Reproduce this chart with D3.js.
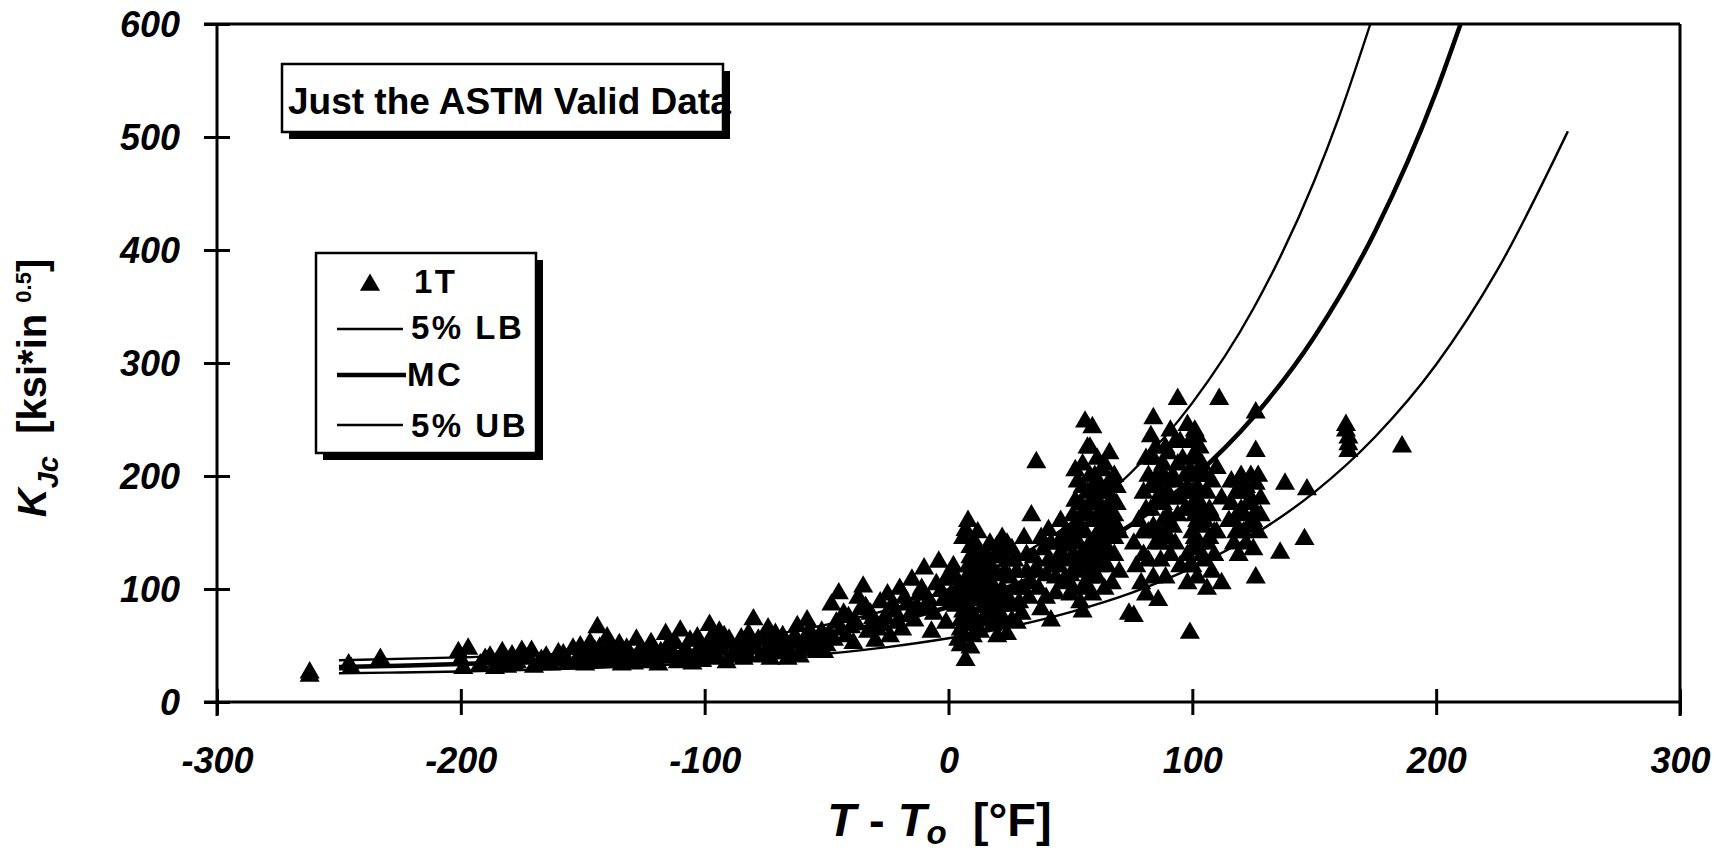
<!DOCTYPE html>
<html>
<head>
<meta charset="utf-8">
<title>KJc vs T - To</title>
<script src="https://cdn.jsdelivr.net/npm/d3@7"></script>
<style>
  body { margin: 0; background: #fff; }
  svg text { font-family: "Liberation Sans", Arial, Helvetica, sans-serif; font-weight: bold; fill: #000; white-space: pre; }
</style>
</head>
<body>
<svg id="chart" width="1726" height="855"></svg>
<script>
// axis ticks
const xTicks = [-300, -200, -100, 0, 100, 200, 300];
const yTicks = [0, 100, 200, 300, 400, 500, 600];

// 5% LB curve (lowest one)
const lbT = [-250, -225, -200, -175, -150, -125, -100, -75, -50, -25, 0, 25, 50, 75, 100, 125, 150, 175, 200, 225, 254];
const lbK = [25.4, 26.1, 27.0, 28.3, 29.8, 31.9, 34.6, 38.1, 42.7, 48.6, 56.4, 66.4, 79.6, 96.6, 118.9, 147.8, 185.5, 234.7, 298.6, 381.9, 505];

// master curve
const mcT = [-250, -225, -200, -175, -150, -125, -100, -75, -50, -25, 0, 25, 50, 75, 100, 125, 150, 175, 200, 210];
const mcK = [31.0, 32.1, 33.6, 35.6, 38.2, 41.7, 46.2, 52.2, 60.1, 70.4, 84.1, 102.1, 125.7, 156.9, 197.9, 252, 323, 416.7, 540, 600];

// 5% UB curve
const ubT = [-250, -200, -150, -100, -50, -25, 0, 25, 50, 75, 100, 125, 150, 160, 173];
const ubK = [37, 39.5, 43.5, 51.5, 68.5, 81.5, 100, 124.6, 158, 203.3, 264.7, 348, 461, 517, 600];

// 1T specimens [T - To (F), KJc]
const oneT = [
  [-262,26],[-262,23],[-246,33],[-245,30],[-233,38],
  [-201,44],[-200,37],[-199,30],[-197,47],
  [-192,33],[-190,38],[-188,40],[-186,30],[-185,36],[-183,44],[-182,38],[-181,31],[-179,41],[-178,33],[-177,35],[-175,45],
  [-174,41],[-172,38],[-171,45],[-170,31],[-168,34],[-167,37],[-165,40],[-163,33],
  [-161,37],[-160,43],[-158,42],[-157,38],[-156,35],[-154,47],[-153,34],[-152,39],[-151,49],[-150,44],[-149,33],[-148,40],
  [-147,52],[-146,36],[-145,45],[-144,66],[-143,48],[-142,37],[-141,41],[-139,50],
  [-140,57],[-138,36],[-137,45],[-136,42],[-135,51],[-134,33],[-133,39],[-132,47],[-131,43],[-130,38],[-129,34],[-128,55],
  [-127,43],[-126,47],[-125,35],[-124,40],[-123,47],[-122,52],[-121,42],[-120,36],[-119,33],
  [-118,44],[-117,39],[-116,60],[-115,50],[-114,46],[-113,41],[-112,52],[-111,35],[-110,63],[-109,38],[-108,46],[-107,43],
  [-106,54],[-105,34],[-104,39],[-103,57],[-102,48],[-101,36],[-100,43],
  [-99,45],[-98,68],[-97,58],[-97,38],[-96,50],[-95,40],[-94,62],[-94,52],[-93,46],[-92,58],[-91,35],[-90,55],[-89,40],
  [-88,44],[-87,47],[-86,51],[-85,56],[-84,38],[-83,43],[-82,60],[-81,50],[-80,73],
  [-79,47],[-78,55],[-77,40],[-76,56],[-75,45],[-74,65],[-73,38],[-72,50],[-71,60],[-70,43],[-69,48],[-68,58],[-67,52],
  [-66,38],[-65,44],[-64,53],[-63,58],[-62,67],[-61,40],[-60,47],[-59,52],[-58,72],[-57,63],[-56,56],[-55,49],
  [-54,44],[-53,55],[-52,62],[-51,44],[-50,50],
  [-49,60],[-48,86],[-47,55],[-46,70],[-45,96],[-44,64],[-43,78],[-42,58],[-41,75],[-40,66],[-39,52],[-38,70],[-37,92],
  [-36,82],[-35,102],[-34,84],[-33,62],[-32,78],[-31,74],[-30,54],[-29,64],
  [-28,88],[-27,68],[-26,75],[-25,95],[-24,58],[-23,86],[-22,80],[-21,70],[-20,100],[-19,64],[-18,92],[-17,86],[-16,76],
  [-15,108],[-14,72],[-13,84],[-12,95],[-11,100],[-10,118],[-9,82],[-8,90],
  [-7,62],[-6,78],[-5,104],[-4,124],[-3,98],[-2,90],[-1,70],[-1,108],[0,112],[1,95],[2,120],[3,85],
  [3,110],[4,55],[4,92],[4,100],[5,50],[5,64],[5,72],[6,58],[6,80],[6,88],[7,68],[7,96],[7,104],[8,76],[8,85],[8,112],
  [8,120],[9,93],[9,100],[9,128],[9,137],[6,145],[7,152],[8,160],[7,37],[9,48],
  [10,58],[10,68],[10,78],[10,108],[10,116],[11,90],[11,100],[11,110],[11,125],[11,140],[12,120],[12,132],[12,150],
  [13,62],[13,96],[13,108],[14,72],[14,84],[14,118],[15,95],[15,106],[15,130],[16,78],[16,116],[16,128],[17,92],[17,104],
  [17,140],[18,80],[18,68],[18,118],[19,100],[19,90],[19,128],[20,112],[20,58],[20,70],[20,138],
  [21,85],[21,130],[22,100],[22,145],[22,75],[23,95],[23,115],[24,60],[24,125],[24,140],[25,90],[25,110],[26,72],[26,85],
  [26,135],[27,100],[27,125],[28,70],[28,115],
  [29,88],[30,78],[30,100],[31,145],[32,115],[32,130],[33,92],[34,105],[34,165],[35,128],[36,118],[36,212],[37,100],
  [38,82],[38,145],[39,135],[40,92],[40,112],[41,125],[41,152],[42,72],[42,140],
  [43,120],[44,96],[44,110],[45,120],[45,140],[46,132],[46,160],[47,105],[47,145],[48,110],[48,125],[48,150],[49,138],
  [50,95],[50,112],[50,150],[51,100],[51,130],[51,165],[52,115],[52,145],[52,178],[52,205],[53,120],[53,140],[53,160],
  [53,195],[54,88],[54,128],[54,155],[54,175],[55,80],[55,100],[55,132],[55,190],[55,210],
  [56,105],[56,125],[56,150],[56,170],[56,248],[57,118],[57,135],[57,165],[57,185],[57,225],[58,110],[58,140],[58,175],
  [58,200],[58,225],[59,95],[59,130],[59,160],[59,190],[59,243],[60,125],[60,145],[60,178],[60,200],
  [61,110],[61,130],[61,165],[61,215],[62,120],[62,150],[62,175],[62,190],[63,135],[63,155],[63,185],[63,205],[64,100],
  [64,140],[64,168],[64,210],[65,120],[65,155],[65,170],[65,185],[66,130],[66,145],[66,195],[66,220],[67,105],[67,160],
  [67,180],[68,130],[68,145],[68,165],[68,200],[69,155],[69,175],[69,190],[70,115],[70,150],
  [74,78],[76,76],[76,140],[77,120],[78,160],[79,105],[80,130],[80,150],[80,185],[81,95],[81,170],[81,215],[82,125],
  [82,150],[82,200],[83,170],[83,190],[83,235],[84,110],[84,155],[84,215],[84,251],[85,140],[85,175],[85,195],[85,225],
  [86,90],[86,150],[86,175],[86,200],[87,125],[87,140],[87,185],[87,205],[88,160],[88,175],[88,210],[89,110],[89,150],
  [89,195],[89,225],[90,145],[90,165],[90,185],[90,220],[91,130],[91,180],[91,240],[92,155],[92,200],[93,140],[93,195],
  [93,230],[94,165],[94,210],[94,268],[95,120],[95,180],[95,230],[96,185],[96,215],[97,170],[97,200],
  [98,105],[98,130],[98,190],[98,245],[99,61],[99,120],[99,170],[99,205],[99,230],[100,120],[100,135],[100,150],[100,185],
  [100,215],[101,145],[101,165],[101,200],[101,220],[101,240],[102,110],[102,160],[102,180],[102,190],[102,235],
  [103,140],[103,175],[103,200],[103,225],[104,130],[104,155],[104,170],[104,210],[105,125],[105,160],[105,200],
  [106,100],[106,140],[106,185],[107,145],[107,170],[108,115],[108,165],[108,195],[109,130],[109,150],[110,150],[110,207],
  [111,268],[112,105],[112,180],
  [115,160],[116,175],[116,195],[117,140],[117,160],[118,150],[118,185],[119,130],[119,195],[120,170],[120,185],[120,200],
  [121,150],[121,165],[122,140],[122,190],[123,155],[123,175],[124,180],[124,200],[125,135],[125,160],
  [126,256],[126,222],[126,193],[126,168],[126,110],[127,150],[127,200],[128,165],[128,180],[136,132],[138,193],[146,144],
  [147,188],
  [163,245],[163,240],[164,234],[164,228],[164,222],[186,226]
];

const legendItems = ["1T", "5% LB", "MC", "5% UB"];

const svg = d3.select("#chart");
const x = d3.scaleLinear().domain([-300, 300]).range([217, 1680]);
const y = d3.scaleLinear().domain([0, 600]).range([702, 24]);

// frame lines
svg.append("line").attr("x1", x(-300) - 13).attr("x2", x(300)).attr("y1", y(600)).attr("y2", y(600))
  .attr("stroke", "#000").attr("stroke-width", 3);
svg.append("line").attr("x1", x(300)).attr("x2", x(300)).attr("y1", y(600)).attr("y2", y(0) + 14)
  .attr("stroke", "#000").attr("stroke-width", 3);
svg.append("line").attr("x1", x(-300)).attr("x2", x(-300)).attr("y1", y(600)).attr("y2", y(0) + 14)
  .attr("stroke", "#000").attr("stroke-width", 3);
svg.append("line").attr("x1", x(-300) - 13).attr("x2", x(300)).attr("y1", y(0)).attr("y2", y(0))
  .attr("stroke", "#000").attr("stroke-width", 3);

// axes (plain hyphen minus like the original)
const fmt = d => String(d);
const gx = svg.append("g").attr("transform", `translate(0,${y(0)})`)
  .call(d3.axisBottom(x).tickValues(xTicks).tickSize(13).tickFormat(fmt));
gx.select(".domain").remove();
gx.selectAll(".tick line").attr("y1", -13).attr("y2", 13).attr("stroke-width", 3);
gx.selectAll(".tick text").attr("y", 71).attr("dy", null)
  .style("font-size", "36px").style("font-style", "italic");

const gy = svg.append("g").attr("transform", `translate(${x(-300)},0)`)
  .call(d3.axisLeft(y).tickValues(yTicks).tickSize(13).tickFormat(fmt));
gy.select(".domain").remove();
gy.selectAll(".tick line").attr("x1", 13).attr("x2", -13).attr("stroke-width", 3);
gy.selectAll(".tick text").attr("x", -37).attr("dy", "0.36em")
  .style("font-size", "36px").style("font-style", "italic");
gx.attr("font-family", null).attr("font-size", null);
gy.attr("font-family", null).attr("font-size", null);

// curves
const line = d3.line().x(d => x(d[0])).y(d => y(d[1])).curve(d3.curveMonotoneX);
const curves = [
  { t: lbT, k: lbK, w: 2.4 },
  { t: mcT, k: mcK, w: 4.5 },
  { t: ubT, k: ubK, w: 2.4 }
];
svg.selectAll("path.curve").data(curves).join("path")
  .attr("class", "curve")
  .attr("d", c => line(c.t.map((t, i) => [t, c.k[i]])))
  .attr("fill", "none").attr("stroke", "#000").attr("stroke-width", c => c.w);

// data points
const tri = d3.symbol(d3.symbolTriangle, 175);
svg.selectAll("path.pt").data(oneT).join("path")
  .attr("class", "pt")
  .attr("transform", d => `translate(${x(d[0])},${y(d[1])})`)
  .attr("d", tri).attr("fill", "#000");

// title box (last letter runs under the right border, as in the original)
svg.append("rect").attr("x", 289).attr("y", 71).attr("width", 441).attr("height", 68).attr("fill", "#000");
svg.append("rect").attr("x", 282).attr("y", 64).attr("width", 441).attr("height", 68)
  .attr("fill", "#fff").attr("stroke", "#000").attr("stroke-width", 2.5);
svg.append("text").attr("x", 288).attr("y", 114)
  .style("font-size", "37px").text("Just the ASTM Valid Data");

// legend
svg.append("rect").attr("x", 323).attr("y", 260).attr("width", 220).attr("height", 200).attr("fill", "#000");
svg.append("rect").attr("x", 316).attr("y", 253).attr("width", 220).attr("height", 200)
  .attr("fill", "#fff").attr("stroke", "#000").attr("stroke-width", 2.5);
const lg = svg.append("g");
lg.append("path").attr("transform", "translate(370,285)").attr("d", tri).attr("fill", "#000");
lg.append("line").attr("x1", 337).attr("x2", 403).attr("y1", 329).attr("y2", 329).attr("stroke", "#000").attr("stroke-width", 2.4);
lg.append("line").attr("x1", 337).attr("x2", 406).attr("y1", 375).attr("y2", 375).attr("stroke", "#000").attr("stroke-width", 4.5);
lg.append("line").attr("x1", 337).attr("x2", 403).attr("y1", 425).attr("y2", 425).attr("stroke", "#000").attr("stroke-width", 2.4);
const lgX = [414, 411, 407, 411];
const lgY = [293, 339, 386, 437];
lg.selectAll("text").data(legendItems).join("text")
  .attr("x", (d, i) => lgX[i]).attr("y", (d, i) => lgY[i])
  .style("font-size", "33px").style("letter-spacing", "2.5px").text(d => d);

// axis titles
const yt = svg.append("text").attr("transform", "translate(46,388) rotate(-90)")
  .attr("text-anchor", "middle").style("font-size", "40px");
yt.append("tspan").style("font-style", "italic").text("K");
yt.append("tspan").style("font-style", "italic").style("font-size", "29px").attr("dy", 12).text("Jc");
yt.append("tspan").attr("dy", -12).text("  [ksi*in ");
yt.append("tspan").style("font-size", "22px").attr("dy", -15).text("0.5");
yt.append("tspan").attr("dy", 15).text("]");

const xt = svg.append("text").attr("x", x(0) - 9).attr("y", 836)
  .attr("text-anchor", "middle").style("font-size", "47px");
xt.append("tspan").style("font-style", "italic").text("T");
xt.append("tspan").text(" - ");
xt.append("tspan").style("font-style", "italic").text("T");
xt.append("tspan").style("font-style", "italic").style("font-size", "33px").attr("dy", 8).text("o");
xt.append("tspan").attr("dy", -8).text("  [°F]");
</script>
</body>
</html>
